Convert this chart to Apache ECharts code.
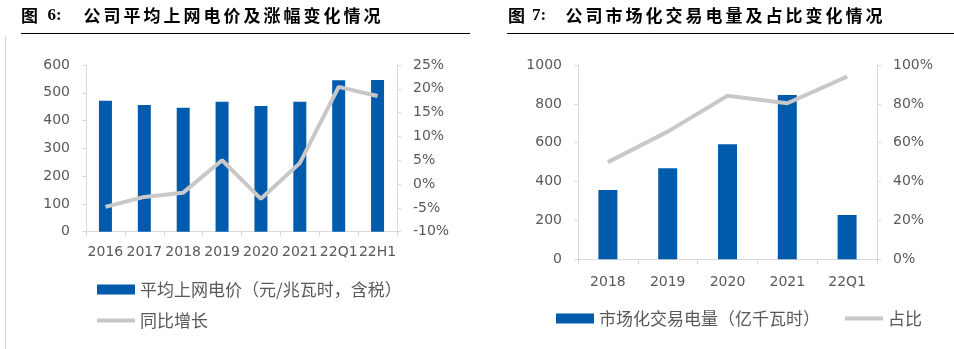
<!DOCTYPE html>
<html><head><meta charset="utf-8">
<script src="https://cdn.jsdelivr.net/npm/echarts@6/dist/echarts.min.js"></script>
<style>html,body{margin:0;padding:0;background:#fff}#c{width:954px;height:349px}</style>
</head><body><div id="c"></div>
<script>
// Chart 1 data
const cats1 = ['2016','2017','2018','2019','2020','2021','22Q1','22H1'];
const price1 = [471, 456, 446, 468, 452, 468, 545, 546];
const yoy1 = [-4.8, -2.7, -1.8, 5.0, -3.1, 4.4, 20.4, 18.5];
// Chart 2 data
const cats2 = ['2018','2019','2020','2021','22Q1'];
const vol2 = [357, 468, 592, 845, 228];
const share2 = [50.0, 65.7, 84.2, 80.3, 94.0];

const title1 = '公司平均上网电价及涨幅变化情况';
const title2 = '公司市场化交易电量及占比变化情况';
const name1a = '平均上网电价（元/兆瓦时，含税）';
const name1b = '同比增长';
const name2a = '市场化交易电量（亿千瓦时）';
const name2b = '占比';

const BLUE = '#005BAC';
const GREY = '#C8C8C8';
const TXT = '#595959';
const AX = '#DADADA';
const FONT = '"DejaVu Sans", "Noto Sans CJK SC", sans-serif';
const CJK = '"Noto Sans CJK SC", sans-serif';
const LINE_ICON = 'path://M0,0 L38,0 L38,4 L0,4 Z';

const axisLabel = {color: TXT, fontSize: 14, fontFamily: FONT};
function yAx(grid, min, max, interval, pct, pos) {
  return {
    type: 'value', gridIndex: grid, min, max, interval, position: pos,
    axisLine: {show: true, lineStyle: {color: AX}},
    axisTick: {show: true, length: 4, lineStyle: {color: AX}},
    splitLine: {show: false},
    axisLabel: Object.assign({}, axisLabel, {margin: 16,
      formatter: v => pct ? (v + '%') : String(v)})
  };
}
function xAx(grid, data, margin) {
  return {
    type: 'category', gridIndex: grid, data,
    axisLine: {show: true, lineStyle: {color: AX}},
    axisTick: {show: true, length: 5, lineStyle: {color: AX}},
    axisLabel: Object.assign({}, axisLabel, {interval: 0, margin})
  };
}
function spacedTitle(num, key, str) {
  return '{c|图}{' + key + '|' + num + ':}' + str.split('').map(ch => '{c|' + ch + '}').join('');
}
const numStyle = {fontSize: 17, fontWeight: 'bold', color: '#000', fontFamily: '"Liberation Serif", serif', align: 'right'};
const titleRich = {
  c: {fontSize: 17, fontWeight: 'bold', color: '#000', fontFamily: CJK, width: 20},
  n1: Object.assign({}, numStyle, {width: 27, padding: [0, 14, 0, 0]}),
  n2: Object.assign({}, numStyle, {width: 22, padding: [0, 14, 0, 0]})
};

const chart = echarts.init(document.getElementById('c'), null, {renderer: 'canvas'});
chart.setOption({
  animation: false,
  backgroundColor: '#fff',
  title: [
    {text: spacedTitle(6, 'n1', title1), left: 21, top: 7, padding: 0,
     textStyle: {rich: titleRich}},
    {text: spacedTitle(7, 'n2', title2), left: 508, top: 7, padding: 0,
     textStyle: {rich: titleRich}}
  ],
  graphic: [
    {type: 'line', shape: {x1: 21, y1: 33.5, x2: 470, y2: 33.5}, style: {stroke: '#000', lineWidth: 1}},
    {type: 'line', shape: {x1: 507, y1: 33.5, x2: 954, y2: 33.5}, style: {stroke: '#000', lineWidth: 1}},
    {type: 'line', shape: {x1: 5.5, y1: 36, x2: 5.5, y2: 349}, style: {stroke: '#D8D8D8', lineWidth: 1}}
  ],
  grid: [
    {left: 86, top: 65, width: 311, height: 166.7},
    {left: 578, top: 65, width: 299, height: 194.3}
  ],
  legend: [
    {orient: 'vertical', left: 97, top: 281, padding: 0, itemWidth: 38, itemHeight: 10, itemGap: 14,
     textStyle: {color: TXT, fontSize: 17, fontFamily: CJK},
     data: [{name: name1a, icon: 'rect'}, {name: name1b, icon: LINE_ICON}]},
    {orient: 'horizontal', left: 556, top: 310, padding: 0, itemWidth: 38, itemHeight: 10, itemGap: 25,
     textStyle: {color: TXT, fontSize: 17, fontFamily: CJK},
     data: [{name: name2a, icon: 'rect'}, {name: name2b, icon: LINE_ICON}]}
  ],
  xAxis: [xAx(0, cats1, 14), xAx(1, cats2, 16)],
  yAxis: [
    yAx(0, 0, 600, 100, false, 'left'),
    yAx(0, -10, 25, 5, true, 'right'),
    yAx(1, 0, 1000, 200, false, 'left'),
    yAx(1, 0, 100, 20, true, 'right')
  ],
  series: [
    {name: name1a, type: 'bar', xAxisIndex: 0, yAxisIndex: 0, data: price1,
     barWidth: 13, itemStyle: {color: BLUE}},
    {name: name1b, type: 'line', xAxisIndex: 0, yAxisIndex: 1, data: yoy1,
     symbol: 'none', lineStyle: {color: GREY, width: 4}, itemStyle: {color: GREY}},
    {name: name2a, type: 'bar', xAxisIndex: 1, yAxisIndex: 2, data: vol2,
     barWidth: 19, itemStyle: {color: BLUE}},
    {name: name2b, type: 'line', xAxisIndex: 1, yAxisIndex: 3, data: share2,
     symbol: 'none', lineStyle: {color: GREY, width: 4}, itemStyle: {color: GREY}}
  ]
});
</script></body></html>
